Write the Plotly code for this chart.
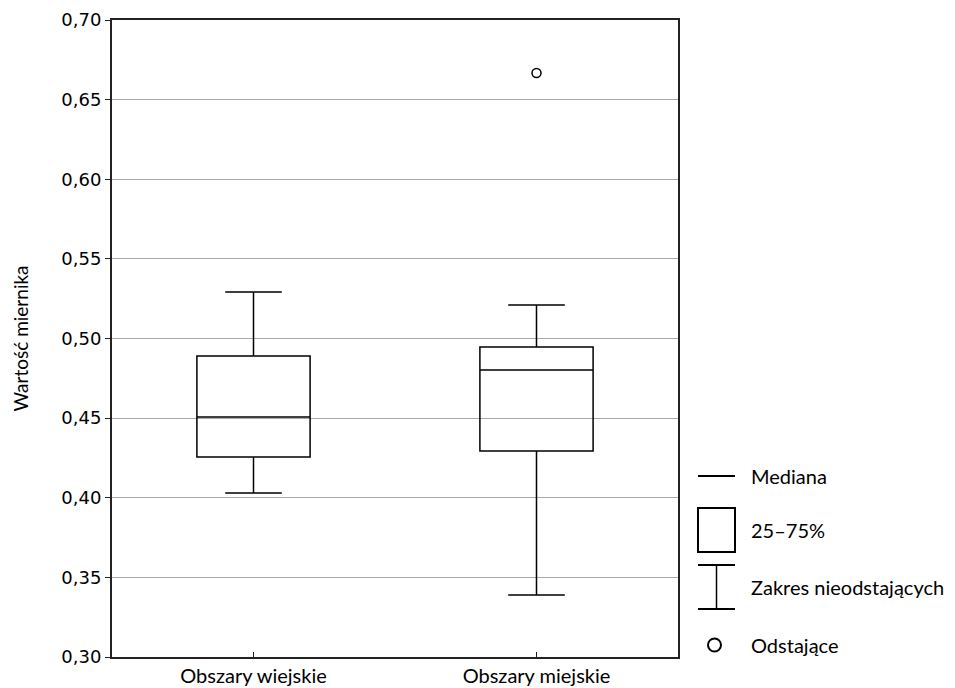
import plotly.graph_objects as go

categories = ["Obszary wiejskie", "Obszary miejskie"]
q1 = [0.4256, 0.4294]
median = [0.4507, 0.4802]
q3 = [0.4890, 0.4947]
lower_whisker = [0.4030, 0.3390]
upper_whisker = [0.5292, 0.5210]
outlier_cat = ["Obszary miejskie"]
outlier_val = [0.6667]
ytick_vals = [0.30, 0.35, 0.40, 0.45, 0.50, 0.55, 0.60, 0.65, 0.70]

fig = go.Figure()
fig.add_trace(go.Box(
    x=categories, q1=q1, median=median, q3=q3,
    lowerfence=lower_whisker, upperfence=upper_whisker,
    fillcolor="rgba(0,0,0,0)", line=dict(color="black", width=1.5),
    width=0.4, whiskerwidth=0.5, boxpoints=False, showlegend=False,
    hoverinfo="skip",
))
fig.add_trace(go.Scatter(
    x=outlier_cat, y=outlier_val, mode="markers",
    marker=dict(symbol="circle-open", size=9, color="black", line=dict(width=1.5)),
    showlegend=False, hoverinfo="skip",
))

# page body has an 8px default margin; figure is sized to fit the window
OFF = 8
W, H = 955 - OFF, 688 - OFF
L, R, T, B = 112 - OFF, 678 - OFF, 20 - OFF, 657 - OFF
def px(x):
    return (x - OFF - L) / (R - L)
def py(y):
    return (B - (y - OFF)) / (B - T)

shp = []
lk = dict(color="black", width=2)
shp.append(dict(type="line", xref="paper", yref="paper", x0=px(698), x1=px(735), y0=py(476), y1=py(476), line=lk))
shp.append(dict(type="rect", xref="paper", yref="paper", x0=px(698), x1=px(735), y0=py(508), y1=py(552), line=lk))
shp.append(dict(type="line", xref="paper", yref="paper", x0=px(698), x1=px(735), y0=py(565), y1=py(565), line=lk))
shp.append(dict(type="line", xref="paper", yref="paper", x0=px(698), x1=px(735), y0=py(609), y1=py(609), line=lk))
shp.append(dict(type="line", xref="paper", yref="paper", x0=px(716.5), x1=px(716.5), y0=py(565), y1=py(609), line=dict(color="black", width=1.5)))
shp.append(dict(type="circle", xref="paper", yref="paper", x0=px(708), x1=px(721), y0=py(638.5), y1=py(651.5), line=lk))

ann = []
font_lbl = dict(family="Lato, Open Sans, sans-serif", size=20, color="black")
for txt, yy in [("Mediana", 476), ("25–75%", 530), ("Zakres nieodstających", 587), ("Odstające", 645)]:
    ann.append(dict(text=txt, xref="paper", yref="paper", x=px(749), y=py(yy),
                    xanchor="left", yanchor="middle", showarrow=False, font=font_lbl))

fig.update_layout(
    width=W, height=H,
    margin=dict(l=L, r=W - R, t=T, b=H - B),
    plot_bgcolor="white", paper_bgcolor="white",
    separators=", ",
    shapes=shp, annotations=ann,
    xaxis=dict(
        range=[-0.5, 1.5], showgrid=False, zeroline=False, automargin=False,
        showline=True, linecolor="#222", linewidth=2, mirror=True,
        ticks="inside", ticklen=5, tickcolor="#222",
        tickfont=dict(family="Lato, Open Sans, sans-serif", size=20, color="black"),
    ),
    yaxis=dict(
        range=[0.30, 0.70], tickvals=ytick_vals, tickformat=".2f", automargin=False,
        showgrid=True, gridcolor="#a8a8a8", gridwidth=1, zeroline=False,
        showline=True, linecolor="#222", linewidth=2, mirror=True,
        ticks="outside", ticklen=5, tickcolor="#222",
        tickfont=dict(family="DejaVu Sans, sans-serif", size=18, color="black"),
        title=dict(text="Wartość miernika", standoff=28,
                   font=dict(family="Lato, Open Sans, sans-serif", size=19, color="black")),
    ),
)
fig.write_html("out.html")
